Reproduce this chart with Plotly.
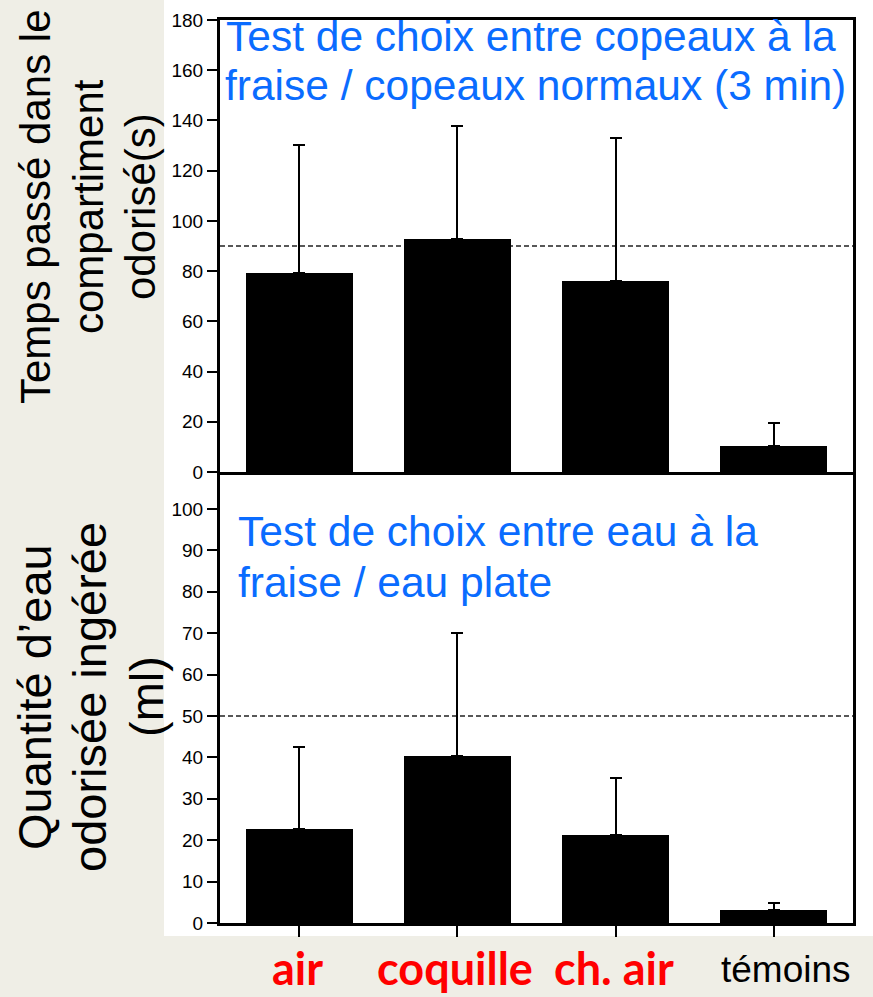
import plotly.graph_objects as go

# --- data ---------------------------------------------------------------
categories = ["air", "coquille", "ch. air", "témoins"]

# time spent in the scented compartment (s), mean and top of error bar
temps_moy = [79.1, 92.9, 76.1, 10.5]
temps_sup = [130.2, 137.9, 133.0, 19.6]

# scented water drunk (ml), mean and top of error bar
eau_moy = [22.7, 40.3, 21.2, 3.1]
eau_sup = [42.6, 70.0, 35.1, 4.8]

# chance levels
temps_hasard = 90
eau_hasard = 50

temps_ticks = list(range(0, 181, 20))
eau_ticks = list(range(0, 101, 10))

label_colors = ["#ff0000", "#ff0000", "#ff0000", "#000000"]
label_bold = [True, True, True, False]

# --- page geometry (pixels) ----------------------------------------------
W, H = 873, 997


def px(x):
    return x / W


def py(y):
    return 1 - y / H


X_LEFT, X_RIGHT = 220, 853
TOP_Y0, TOP_Y1 = 20, 472          # top panel: 180 .. 0
BOT_Y0, BOT_Y1 = 472, 923         # bottom panel
BOT_PX_PER_UNIT = (923 - 509) / 100.0
BOT_MAX = (BOT_Y1 - BOT_Y0) / BOT_PX_PER_UNIT

SANS = "Liberation Sans, Arial, Helvetica, sans-serif"
BLUE = "#0a6cff"
BG = "#efeee6"

fig = go.Figure()

fig.add_trace(go.Bar(
    x=categories, y=temps_moy, xaxis="x", yaxis="y",
    marker=dict(color="black", line=dict(width=0)),
    width=0.676,
    error_y=dict(type="data", symmetric=False,
                 array=[s - m for s, m in zip(temps_sup, temps_moy)],
                 arrayminus=[0] * len(temps_moy),
                 color="black", thickness=2, width=6),
    showlegend=False, hoverinfo="skip",
))

fig.add_trace(go.Bar(
    x=categories, y=eau_moy, xaxis="x2", yaxis="y2",
    marker=dict(color="black", line=dict(width=0)),
    width=0.676,
    error_y=dict(type="data", symmetric=False,
                 array=[s - m for s, m in zip(eau_sup, eau_moy)],
                 arrayminus=[0] * len(eau_moy),
                 color="black", thickness=2, width=6),
    showlegend=False, hoverinfo="skip",
))

axis_common = dict(showgrid=False, zeroline=False, color="black",
                   automargin=False,
                   tickfont=dict(family=SANS, size=19, color="black"))

fig.update_layout(
    template="none",
    width=W, height=H, autosize=False,
    margin=dict(l=0, r=0, t=0, b=0, pad=0),
    paper_bgcolor=BG, plot_bgcolor="white",
    bargap=0,
    xaxis=dict(domain=[px(X_LEFT), px(X_RIGHT)], anchor="y",
               range=[-0.5, 3.5], showline=True, linewidth=2.5, linecolor="black",
               mirror=True, ticks="", showticklabels=False, **axis_common),
    yaxis=dict(domain=[py(TOP_Y1), py(TOP_Y0)], anchor="x",
               range=[0, 180], tickvals=temps_ticks, ticks="outside",
               ticklen=10, tickwidth=1.5, tickcolor="black",
               showline=True, linewidth=3, linecolor="black", mirror=True,
               **axis_common),
    xaxis2=dict(domain=[px(X_LEFT), px(X_RIGHT)], anchor="y2",
                range=[-0.5, 3.5], showline=True, linewidth=2.5, linecolor="black",
                ticks="outside", ticklen=11, tickwidth=1.5, tickcolor="black",
                showticklabels=False, **axis_common),
    yaxis2=dict(domain=[py(BOT_Y1), py(BOT_Y0)], anchor="x2",
                range=[0, BOT_MAX], tickvals=eau_ticks, ticks="outside",
                ticklen=10, tickwidth=1.5, tickcolor="black",
                showline=True, linewidth=3, linecolor="black", mirror=True,
                **axis_common),
)

shapes = [
    # white sheet behind the figure
    dict(type="rect", xref="paper", yref="paper",
         x0=px(164), x1=1.0, y0=py(936), y1=1.0,
         fillcolor="white", line=dict(width=0), layer="below"),
    # chance levels
    dict(type="line", xref="x domain", yref="y", x0=0, x1=1,
         y0=temps_hasard, y1=temps_hasard,
         line=dict(color="#222222", width=1.5, dash="5px,3px"), layer="below"),
    dict(type="line", xref="x2 domain", yref="y2", x0=0, x1=1,
         y0=eau_hasard, y1=eau_hasard,
         line=dict(color="#222222", width=1.5, dash="5px,3px"), layer="below"),
]
fig.update_layout(shapes=shapes)

annotations = []


def note(text, x, y, size, color="black", angle=0, xanchor="center",
         yanchor="middle", family=SANS, xref="paper", yref="paper", xshift=0):
    annotations.append(dict(text=text, x=x, y=y, xref=xref, yref=yref,
                            showarrow=False, textangle=angle,
                            xanchor=xanchor, yanchor=yanchor, xshift=xshift,
                            font=dict(family=family, size=size, color=color)))


# y-axis titles, one line per annotation
for text, cx in zip(["Temps passé dans le", "compartiment", "odorisé(s)"],
                    [35, 88, 140]):
    note(text, px(cx), py(207), 42, angle=-90)

for text, cx in zip(["Quantité d’eau", "odorisée ingérée", "(ml)"],
                    [34, 89, 146]):
    note(text, px(cx), py(697), 47, angle=-90)

# panel headings
note("Test de choix entre copeaux à la", px(224), py(36), 42.5, BLUE, xanchor="left")
note("fraise / copeaux normaux (3 min)", px(223), py(85), 42.5, BLUE, xanchor="left")
note("Test de choix entre eau à la", px(236), py(531), 42.5, BLUE, xanchor="left")
note("fraise / eau plate", px(236), py(582), 42.5, BLUE, xanchor="left")

# category labels under the lower panel
for cat, col, bold in zip(categories, label_colors, label_bold):
    if bold:
        note(f"<b>{cat}</b>", cat, 0.0, 45, col, yanchor="bottom",
             family="Lato, Open Sans, sans-serif", xref="x2", xshift=-2)
    else:
        note(cat, cat, py(969), 37, col, xref="x2", xshift=12)

fig.update_layout(annotations=annotations)

fig.write_html("out.html")
